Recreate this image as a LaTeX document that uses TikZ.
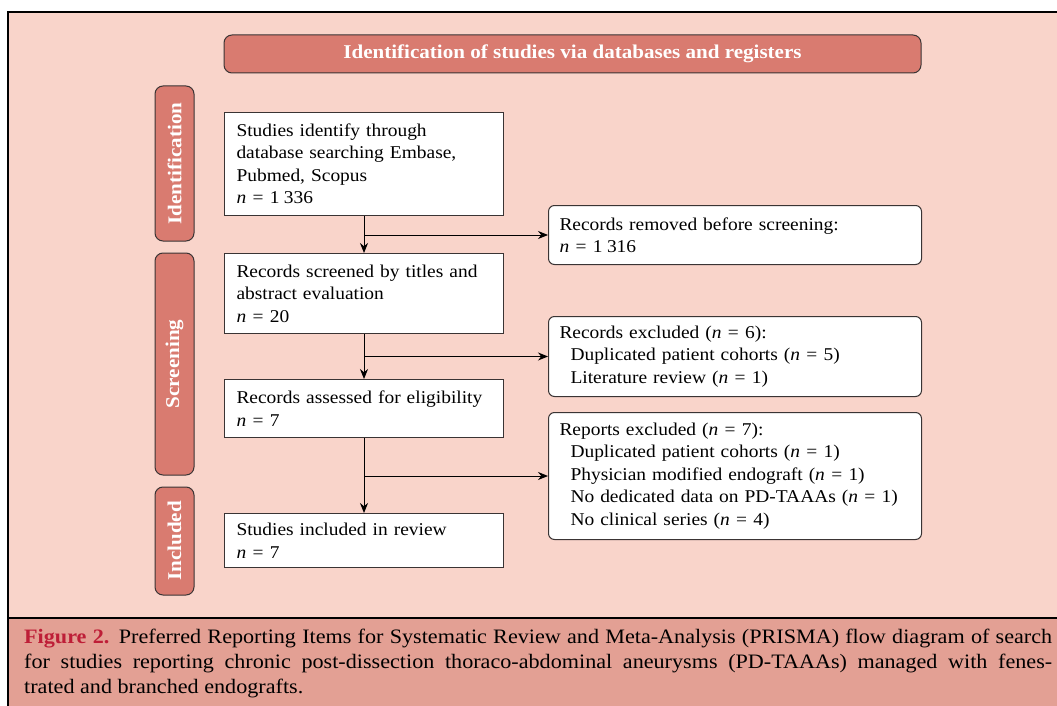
\documentclass[tikz,border=0pt]{standalone}
\usepackage{fontspec}
\setmainfont{Liberation Serif}[FakeStretch=1.08]
\usetikzlibrary{arrows.meta}

\definecolor{pagepink}{HTML}{F9D4CA}
\definecolor{stagered}{HTML}{D97B70}
\definecolor{capbg}{HTML}{E3A094}
\definecolor{figred}{HTML}{BE1E37}
\definecolor{edgegray}{HTML}{3A3434}

\newcommand{\nval}[1]{\textit{n}\kern0.35em=\kern0.35em#1}
\newcommand{\boxfont}{\fontsize{18}{22.5}\selectfont}
\newcommand{\stagefont}{\fontsize{19.5}{21}\selectfont\bfseries}
\newcommand{\capfont}{\fontsize{20.5}{25}\selectfont}

\tikzset{
  flowbox/.style={draw=edgegray, fill=white, line width=1pt, anchor=north west,
    text width=255pt, inner xsep=12pt, align=left, font=\boxfont},
  exclbox/.style={flowbox, rounded corners=6pt, text width=351pt, inner xsep=11pt},
  stagebar/.style={draw=edgegray, fill=stagered, line width=1pt, rounded corners=8pt,
    text=white, font=\stagefont, inner sep=0pt},
  flowarrow/.style={draw=black, line width=1pt, -{Stealth[length=10pt,width=8pt]}},
  captext/.style={anchor=north west, text width=1028pt, align=justify, inner sep=0pt, font=\capfont},
}

\begin{document}
\begin{tikzpicture}[x=1pt, y=-1pt]
\useasboundingbox (0,0) rectangle (1057,706);
\fill[white] (0,0) rectangle (1057,706);
% frame and caption band
\fill[pagepink] (8,12) rectangle (1060,618);
\fill[capbg] (8,618) rectangle (1060,710);
\draw[line width=1.5pt] (8,618) -- (1060,618);
\draw[line width=2pt] (1060,12) -- (8,12) -- (8,710);

% stage bars
\node[stagebar, minimum width=697pt, minimum height=38pt] (head) at (572.5,54) {Identification of studies via databases and registers};
\node[stagebar, rotate=90, minimum width=155pt, minimum height=39pt] (ident) at (174.5,163.5) {Identification};
\node[stagebar, rotate=90, minimum width=222pt, minimum height=39pt] (screen) at (174.5,364) {Screening};
\node[stagebar, rotate=90, minimum width=108pt, minimum height=39pt] (incl) at (174.5,541) {Included};

% main flow
\node[flowbox, minimum height=103pt] (found) at (224,112) {Studies identify through\\ database searching Embase,\\ Pubmed, Scopus\\ \nval{1\kern0.25em336}};
\node[flowbox, minimum height=80pt] (screened) at (224,253) {Records screened by titles and\\ abstract evaluation\\ \nval{20}};
\node[flowbox, minimum height=58pt] (assessed) at (224,379) {Records assessed for eligibility\\ \nval{7}};
\node[flowbox, minimum height=54pt] (included) at (224,513) {Studies included in review\\ \nval{7}};

% exclusions
\node[exclbox, minimum height=59pt] (removed) at (548,205) {Records removed before screening:\\ \nval{1\kern0.25em316}};
\node[exclbox, minimum height=80pt] (recexcl) at (548,316) {Records excluded (\nval{6}):\\
  \hspace*{11pt}Duplicated patient cohorts (\nval{5})\\
  \hspace*{11pt}Literature review (\nval{1})};
\node[exclbox, minimum height=127pt] (repexcl) at (548,412) {Reports excluded (\nval{7}):\\
  \hspace*{11pt}Duplicated patient cohorts (\nval{1})\\
  \hspace*{11pt}Physician modified endograft (\nval{1})\\
  \hspace*{11pt}No dedicated data on PD-TAAAs (\nval{1})\\
  \hspace*{11pt}No clinical series (\nval{4})};

% arrows
\draw[flowarrow] (found) -- (screened);
\draw[flowarrow] (screened) -- (assessed);
\draw[flowarrow] (assessed) -- (included);
\draw[flowarrow] (found.south |- removed.west) -- (removed);
\draw[flowarrow] (screened.south |- recexcl.west) -- (recexcl);
\draw[flowarrow] (assessed.south |- repexcl.west) -- (repexcl);

% caption
\node[captext] (caption) at (24,629) {\textcolor{figred}{\textbf{Figure 2.}} Preferred Reporting Items for Systematic Review and Meta-Analysis (PRISMA) flow diagram of search\linebreak for studies reporting chronic post-dissection thoraco-abdominal aneurysms (PD-TAAAs) managed with fenes-\linebreak trated and branched endografts.};
\end{tikzpicture}
\end{document}
